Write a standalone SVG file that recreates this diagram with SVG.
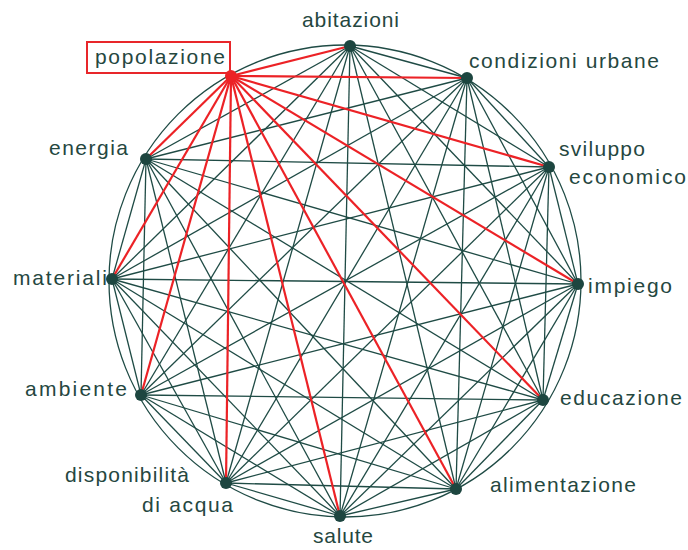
<svg xmlns="http://www.w3.org/2000/svg" width="688" height="550" viewBox="0 0 688 550">
<style>
.bg{fill:#ffffff}
.ring{fill:none;stroke:#1f4b45;stroke-width:1.3}
.c line{stroke:#1f4b45;stroke-width:1.3}
.c line.r{stroke:#ec2226;stroke-width:2.2}
.dot{fill:#1d4640}
.rdot{fill:#ec2226}
text{font-family:"Liberation Sans",Arial,sans-serif;font-size:21px;fill:#25473f}
.box{fill:none;stroke:#e8262a;stroke-width:2}
</style>
<rect class="bg" x="0" y="0" width="688" height="550"/>
<circle class="ring" cx="345" cy="281" r="236"/>
<g id="connectors" class="c">
<line x1="350" y1="46" x2="467" y2="78"/>
<line x1="350" y1="46" x2="549" y2="167"/>
<line x1="350" y1="46" x2="578" y2="284"/>
<line x1="350" y1="46" x2="543" y2="400"/>
<line x1="350" y1="46" x2="456" y2="489"/>
<line x1="350" y1="46" x2="340" y2="516"/>
<line x1="350" y1="46" x2="226" y2="483"/>
<line x1="350" y1="46" x2="141" y2="395"/>
<line x1="350" y1="46" x2="112" y2="279"/>
<line x1="350" y1="46" x2="146" y2="159"/>
<line x1="467" y1="78" x2="549" y2="167"/>
<line x1="467" y1="78" x2="578" y2="284"/>
<line x1="467" y1="78" x2="543" y2="400"/>
<line x1="467" y1="78" x2="456" y2="489"/>
<line x1="467" y1="78" x2="340" y2="516"/>
<line x1="467" y1="78" x2="226" y2="483"/>
<line x1="467" y1="78" x2="141" y2="395"/>
<line x1="467" y1="78" x2="112" y2="279"/>
<line x1="467" y1="78" x2="146" y2="159"/>
<line x1="549" y1="167" x2="578" y2="284"/>
<line x1="549" y1="167" x2="543" y2="400"/>
<line x1="549" y1="167" x2="456" y2="489"/>
<line x1="549" y1="167" x2="340" y2="516"/>
<line x1="549" y1="167" x2="226" y2="483"/>
<line x1="549" y1="167" x2="141" y2="395"/>
<line x1="549" y1="167" x2="112" y2="279"/>
<line x1="549" y1="167" x2="146" y2="159"/>
<line x1="578" y1="284" x2="543" y2="400"/>
<line x1="578" y1="284" x2="456" y2="489"/>
<line x1="578" y1="284" x2="340" y2="516"/>
<line x1="578" y1="284" x2="226" y2="483"/>
<line x1="578" y1="284" x2="141" y2="395"/>
<line x1="578" y1="284" x2="112" y2="279"/>
<line x1="578" y1="284" x2="146" y2="159"/>
<line x1="543" y1="400" x2="456" y2="489"/>
<line x1="543" y1="400" x2="340" y2="516"/>
<line x1="543" y1="400" x2="226" y2="483"/>
<line x1="543" y1="400" x2="141" y2="395"/>
<line x1="543" y1="400" x2="112" y2="279"/>
<line x1="543" y1="400" x2="146" y2="159"/>
<line x1="456" y1="489" x2="340" y2="516"/>
<line x1="456" y1="489" x2="226" y2="483"/>
<line x1="456" y1="489" x2="141" y2="395"/>
<line x1="456" y1="489" x2="112" y2="279"/>
<line x1="456" y1="489" x2="146" y2="159"/>
<line x1="340" y1="516" x2="226" y2="483"/>
<line x1="340" y1="516" x2="141" y2="395"/>
<line x1="340" y1="516" x2="112" y2="279"/>
<line x1="340" y1="516" x2="146" y2="159"/>
<line x1="226" y1="483" x2="141" y2="395"/>
<line x1="226" y1="483" x2="112" y2="279"/>
<line x1="226" y1="483" x2="146" y2="159"/>
<line x1="141" y1="395" x2="112" y2="279"/>
<line x1="141" y1="395" x2="146" y2="159"/>
<line x1="112" y1="279" x2="146" y2="159"/>
<line class="r" x1="231" y1="76" x2="350" y2="46"/>
<line class="r" x1="231" y1="76" x2="467" y2="78"/>
<line class="r" x1="231" y1="76" x2="549" y2="167"/>
<line class="r" x1="231" y1="76" x2="578" y2="284"/>
<line class="r" x1="231" y1="76" x2="543" y2="400"/>
<line class="r" x1="231" y1="76" x2="456" y2="489"/>
<line class="r" x1="231" y1="76" x2="340" y2="516"/>
<line class="r" x1="231" y1="76" x2="226" y2="483"/>
<line class="r" x1="231" y1="76" x2="141" y2="395"/>
<line class="r" x1="231" y1="76" x2="112" y2="279"/>
<line class="r" x1="231" y1="76" x2="146" y2="159"/>
</g>
<g id="node-abitazioni"><circle class="dot" cx="350" cy="46" r="6"/><text x="302" y="27" textLength="97" lengthAdjust="spacing">abitazioni</text></g>
<g id="node-condizioni-urbane"><circle class="dot" cx="467" cy="78" r="6"/><text x="469" y="68" textLength="190" lengthAdjust="spacing">condizioni urbane</text></g>
<g id="node-sviluppo-economico"><circle class="dot" cx="549" cy="167" r="6"/><text x="559" y="156" textLength="86" lengthAdjust="spacing">sviluppo</text><text x="569" y="184" textLength="117" lengthAdjust="spacing">economico</text></g>
<g id="node-impiego"><circle class="dot" cx="578" cy="284" r="6"/><text x="588" y="293" textLength="84" lengthAdjust="spacing">impiego</text></g>
<g id="node-educazione"><circle class="dot" cx="543" cy="400" r="6"/><text x="560" y="405" textLength="122" lengthAdjust="spacing">educazione</text></g>
<g id="node-alimentazione"><circle class="dot" cx="456" cy="489" r="6"/><text x="490" y="492" textLength="146" lengthAdjust="spacing">alimentazione</text></g>
<g id="node-salute"><circle class="dot" cx="340" cy="516" r="6"/><text x="313" y="543" textLength="60" lengthAdjust="spacing">salute</text></g>
<g id="node-disponibilita-acqua"><circle class="dot" cx="226" cy="483" r="6"/><text x="65" y="482" textLength="124" lengthAdjust="spacing">disponibilità</text><text x="142" y="512" textLength="91" lengthAdjust="spacing">di acqua</text></g>
<g id="node-ambiente"><circle class="dot" cx="141" cy="395" r="6"/><text x="25" y="396" textLength="102" lengthAdjust="spacing">ambiente</text></g>
<g id="node-materiali"><circle class="dot" cx="112" cy="279" r="6"/><text x="13" y="285" textLength="94" lengthAdjust="spacing">materiali</text></g>
<g id="node-energia"><circle class="dot" cx="146" cy="159" r="6"/><text x="49" y="155" textLength="79" lengthAdjust="spacing">energia</text></g>
<g id="node-popolazione"><circle class="rdot" cx="231" cy="76" r="6"/><rect class="box" x="87" y="42" width="143" height="31"/><text x="95" y="64" textLength="130" lengthAdjust="spacing">popolazione</text></g>
</svg>
